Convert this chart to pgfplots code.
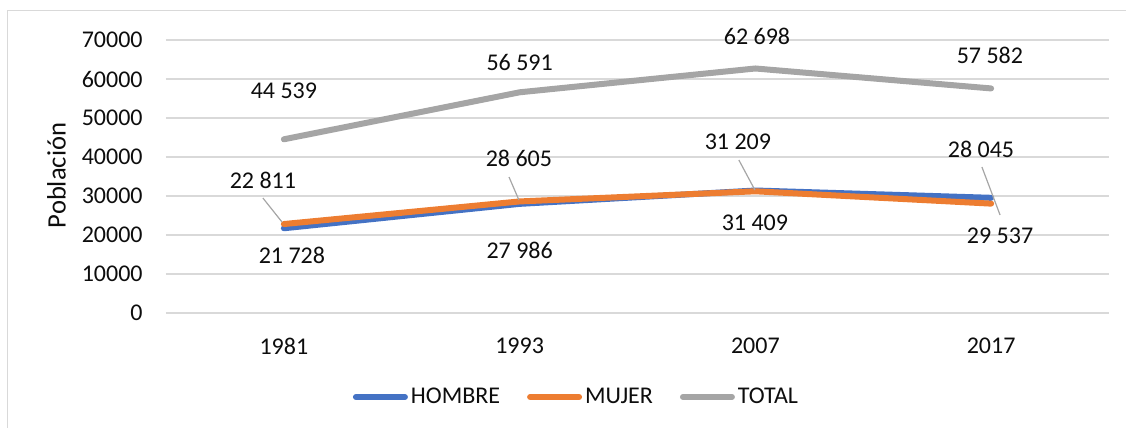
\documentclass[border=0pt]{standalone}
\usepackage{fontspec}
\setmainfont{Carlito}
\usepackage{pgfplots}
\pgfplotsset{compat=1.18}
\definecolor{cH}{HTML}{4472C4}
\definecolor{cM}{HTML}{ED7D31}
\definecolor{cT}{HTML}{A5A5A5}
\definecolor{gridc}{HTML}{D9D9D9}
\definecolor{leadc}{HTML}{A6A6A6}
\definecolor{txt}{HTML}{0D0D0D}
\begin{document}
\begin{tikzpicture}
\useasboundingbox (-83pt,-57.5pt) rectangle (480pt,156.5pt);
\draw[gridc, line width=0.75pt] (-79.25pt,-60pt) -- (-79.25pt,151.25pt) -- (490pt,151.25pt);
\begin{axis}[
  at={(0,0)}, anchor=south west,
  scale only axis, width=471.5pt, height=136.5pt,
  xmin=-0.5, xmax=3.5, ymin=0, ymax=70000,
  xtick={0,1,2,3}, xticklabels={1981,1993,2007,2017},
  ytick={0,10000,20000,30000,40000,50000,60000,70000},
  scaled y ticks=false,
  /pgf/number format/.cd, 1000 sep={}, assume math mode=true, /pgfplots/.cd,
  ymajorgrids, grid style={gridc, line width=0.75pt},
  axis line style={draw=none}, major tick style={draw=none},
  yticklabel style={anchor=east, inner sep=0pt, xshift=-11.5pt, font=\fontsize{12}{14}\selectfont, text=txt},
  xticklabel style={anchor=north, inner sep=0pt, yshift=-12.25pt, font=\fontsize{12}{14}\selectfont, text=txt},
  clip=false,
  legend columns=3,
  legend style={at={(0.4358,-0.3077)}, anchor=center, draw=none, fill=none,
    font=\fontsize{12}{14}\selectfont, text=txt, inner sep=0pt,
    column sep=0pt, nodes={inner sep=1.5pt}},
  legend image code/.code={\draw[#1, line width=3pt, line cap=round] (1.5pt,0pt) -- (26pt,0pt);},
  /tikz/every even column/.append style={column sep=12pt},
  every axis plot/.append style={line width=3pt, line join=round, line cap=round, mark=none},
]
\addplot[cH] coordinates {(0,21728) (1,27986) (2,31409) (3,29537)};
\addlegendentry{HOMBRE}
\addplot[cM] coordinates {(0,22811) (1,28605) (2,31209) (3,28045)};
\addlegendentry{MUJER}
\addplot[cT] coordinates {(0,44539) (1,56591) (2,62698) (3,57582)};
\addlegendentry{TOTAL}
% leader lines
\draw[leadc, line width=0.6pt] (axis cs:-0.089,29486) -- (axis cs:-0.008,23332);
\draw[leadc, line width=0.6pt] (axis cs:0.955,34870) -- (axis cs:0.997,28973);
\draw[leadc, line width=0.6pt] (axis cs:1.93,39229) -- (axis cs:1.998,31537);
\draw[leadc, line width=0.6pt] (axis cs:2.961,37434) -- (axis cs:3.038,25127);
% data labels
\begin{scope}[every node/.style={font=\fontsize{12}{14}\selectfont, text=txt, inner sep=0pt}]
\node at (axis cs:0,56923) {44 539};
\node at (axis cs:1,64359) {56 591};
\node at (axis cs:2.007,71023) {62 698};
\node at (axis cs:2.995,66151) {57 582};
\node at (axis cs:-0.089,34101) {22 811};
\node at (axis cs:0.034,14871) {21 728};
\node at (axis cs:0.997,39742) {28 605};
\node at (axis cs:1.0,16153) {27 986};
\node at (axis cs:1.926,43844) {31 209};
\node at (axis cs:1.998,23076) {31 409};
\node at (axis cs:2.957,42050) {28 045};
\node at (axis cs:3.038,19743) {29 537};
\end{scope}
\end{axis}
\node[rotate=90, font=\fontsize{13.3}{15}\selectfont, text=txt, inner sep=0pt] at (-54.75pt,68.75pt) {Población};
\end{tikzpicture}
\end{document}
